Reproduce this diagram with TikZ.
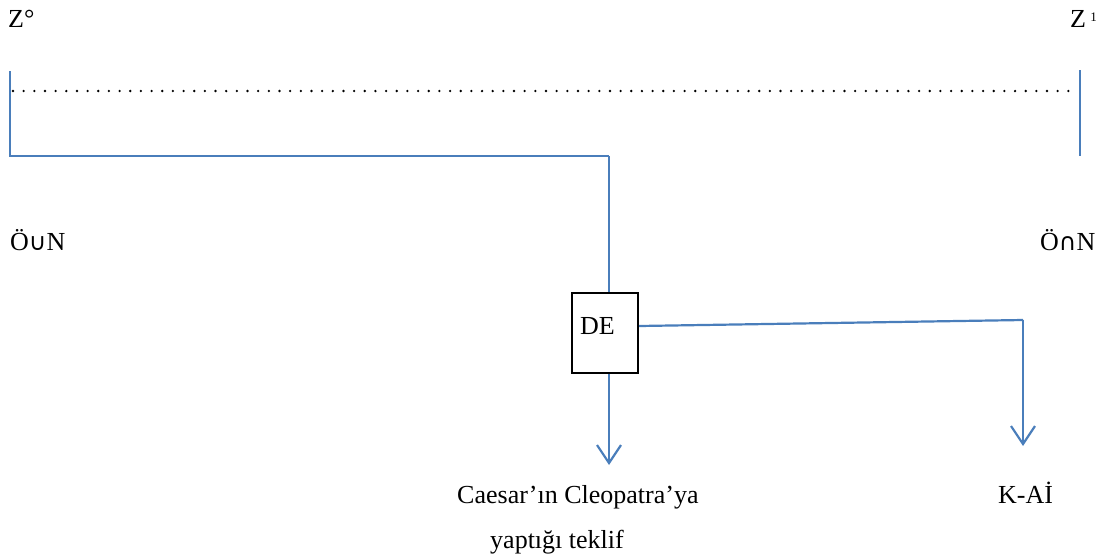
\documentclass[tikz,border=0pt]{standalone}
\usepackage{fontspec}
\setmainfont{Liberation Serif}
\newfontfamily\symfont{DejaVu Sans}
\usetikzlibrary{arrows.meta}
\definecolor{linkblue}{RGB}{74,126,187}
\begin{document}
\begin{tikzpicture}[x=1pt,y=-1pt,
  lbl/.style={inner sep=0pt,anchor=base west,font=\fontsize{26}{30}\selectfont},
  wire/.style={draw=linkblue,line width=2.2pt},
  arr/.style={wire,-{Straight Barb[length=18pt,width=24pt,line width=2.2pt]}}]
\useasboundingbox (0,0) rectangle (1108,558);
% end markers and labels
\node[lbl] (z0) at (8,27) {Z°};
\node[lbl] (z1) at (1070,27) {Z\,\raisebox{0.45ex}{\fontsize{13}{15}\selectfont 1}};
\node[lbl] (oun) at (10,250) {Ö{\symfont\fontsize{24}{28}\selectfont ∪}N};
\node[lbl] (okn) at (1040,250) {Ö{\symfont\fontsize{24}{28}\selectfont ∩}N};
% timeline
\coordinate (lt) at (10,71);
\coordinate (lb) at (10,156);
\coordinate (rt) at (1080,70);
\coordinate (rb) at (1080,156);
\coordinate (mid) at (609,156);
\draw[line width=2.6pt,line cap=round,dash pattern=on 0pt off 10.66pt]
  (13,91) coordinate (dl) -- (1078,91) coordinate (dr);
\draw[wire] (lt) -- (lb) -- (mid);
\draw[wire] (rt) -- (rb);
% decision box
\node[draw,line width=2pt,minimum width=66pt,minimum height=80pt,inner sep=0pt,
      anchor=north west] (de) at (571,292) {};
\node[lbl] (detxt) at (580,334) {DE};
\draw[wire] (mid) -- (mid |- de.north);
% outcomes
\coordinate (corner) at (1023,320);
\coordinate (rtip) at (1023,446);
\coordinate (dtip) at (609,465);
\draw[wire] (de.east |- 0,326) -- (corner);
\draw[arr] (corner) -- (rtip);
\draw[arr] (dtip |- de.south) -- (dtip);
\node[lbl] (offer1) at (457,503) {Caesar’ın Cleopatra’ya};
\node[lbl] (offer2) at (490,548) {yaptığı teklif};
\node[lbl] (kai) at (998,503) {K-Aİ};
\end{tikzpicture}
\end{document}
